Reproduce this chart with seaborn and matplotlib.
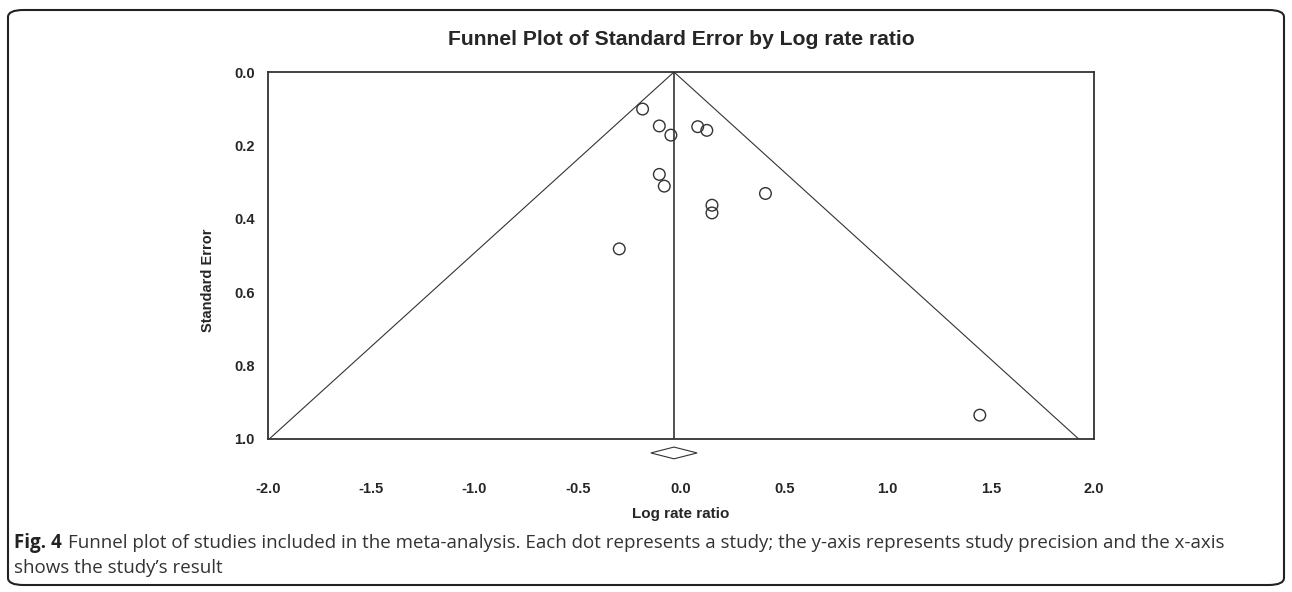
import numpy as np
import pandas as pd
import matplotlib
matplotlib.use("Agg")
import matplotlib.pyplot as plt
import seaborn as sns
from matplotlib.patches import FancyBboxPatch, Polygon

# Study estimates
log_rr = [-0.186, -0.105, -0.049, 0.081, 0.125, -0.105, -0.081, 0.409, 0.150, 0.150, -0.299, 1.447]
std_err = [0.101, 0.147, 0.172, 0.149, 0.159, 0.279, 0.311, 0.331, 0.363, 0.384, 0.482, 0.935]

# Pooled estimate and its confidence interval (diamond)
pooled = -0.034
ci_low, ci_high = -0.146, 0.078

x_ticks = [-2.0, -1.5, -1.0, -0.5, 0.0, 0.5, 1.0, 1.5, 2.0]
y_ticks = [0.0, 0.2, 0.4, 0.6, 0.8, 1.0]

df = pd.DataFrame({"log_rr": log_rr, "se": std_err})

sns.set_style("white")
plt.rcParams['font.family'] = ['Liberation Sans', 'DejaVu Sans']

fig = plt.figure(figsize=(12.92, 5.92), dpi=100)
ax = fig.add_axes([268 / 1292, 1 - 439 / 592, (1094 - 268) / 1292, (439 - 72) / 592])

# funnel lines and pooled estimate line
se_line = np.array([0.0, 1.0])
ax.plot(pooled - 1.96 * se_line, se_line, color='#333333', lw=0.8)
ax.plot(pooled + 1.96 * se_line, se_line, color='#333333', lw=0.8)
ax.plot([pooled, pooled], [0, 1], color='#333333', lw=1.2)

sns.scatterplot(data=df, x='log_rr', y='se', ax=ax, s=70, marker='o',
                facecolor='none', edgecolor='#333333', linewidth=1.0, zorder=3)

# diamond for pooled estimate below the axis
dh = 0.016
dy = 1.038
diamond = Polygon([[ci_low, dy], [pooled, dy - dh], [ci_high, dy], [pooled, dy + dh]],
                  closed=True, facecolor='white', edgecolor='#333333', lw=0.8,
                  clip_on=False, zorder=4)
ax.add_patch(diamond)

ax.set_xlim(-2.0, 2.0)
ax.set_ylim(1.0, 0.0)
ax.set_xticks(x_ticks)
ax.set_yticks(y_ticks)
ax.set_xticklabels([f"{v:.1f}" for v in x_ticks], fontweight='bold', fontsize=10.5)
ax.set_yticklabels([f"{v:.1f}" for v in y_ticks], fontweight='bold', fontsize=10.5)
ax.tick_params(axis='x', direction='inout', length=6, width=1, color='#333333', pad=28)
ax.tick_params(axis='y', direction='out', length=2.5, width=1, color='#333333', pad=7)
for sp in ax.spines.values():
    sp.set_color('#333333')
    sp.set_linewidth(1.3)

ax.set_xlabel('Log rate ratio', fontweight='bold', fontsize=11, labelpad=8)
ax.set_ylabel('Standard Error', fontweight='bold', fontsize=10.5)
ax.yaxis.set_label_coords(-0.064, 0.432)
ax.set_title('Funnel Plot of Standard Error by Log rate ratio', fontweight='bold',
             fontsize=15.2, pad=19.5)

# caption
cap_font = ['Open Sans', 'DejaVu Sans']
fig.text(14 / 1292, 1 - 543 / 592, 'Fig. 4', fontweight='bold', fontsize=13.5,
         va='center', ha='left', family=cap_font, color='#222222')
fig.text(68 / 1292, 1 - 543 / 592,
         'Funnel plot of studies included in the meta-analysis. Each dot represents a study; '
         'the y-axis represents study precision and the x-axis',
         fontsize=13.5, va='center', ha='left', family=cap_font, color='#333333')
fig.text(14 / 1292, 1 - 568 / 592, 'shows the study\u2019s result', fontsize=13.5,
         va='center', ha='left', family=cap_font, color='#333333')

# rounded frame around figure and caption
frame = FancyBboxPatch((8 / 1292, 1 - 585 / 592), 1276 / 1292, 575 / 592,
                       boxstyle='round,pad=0,rounding_size=0.012',
                       transform=fig.transFigure, facecolor='none',
                       edgecolor='#222222', lw=1.5, clip_on=False)
fig.patches.append(frame)

fig.savefig('out.png', dpi=100)
